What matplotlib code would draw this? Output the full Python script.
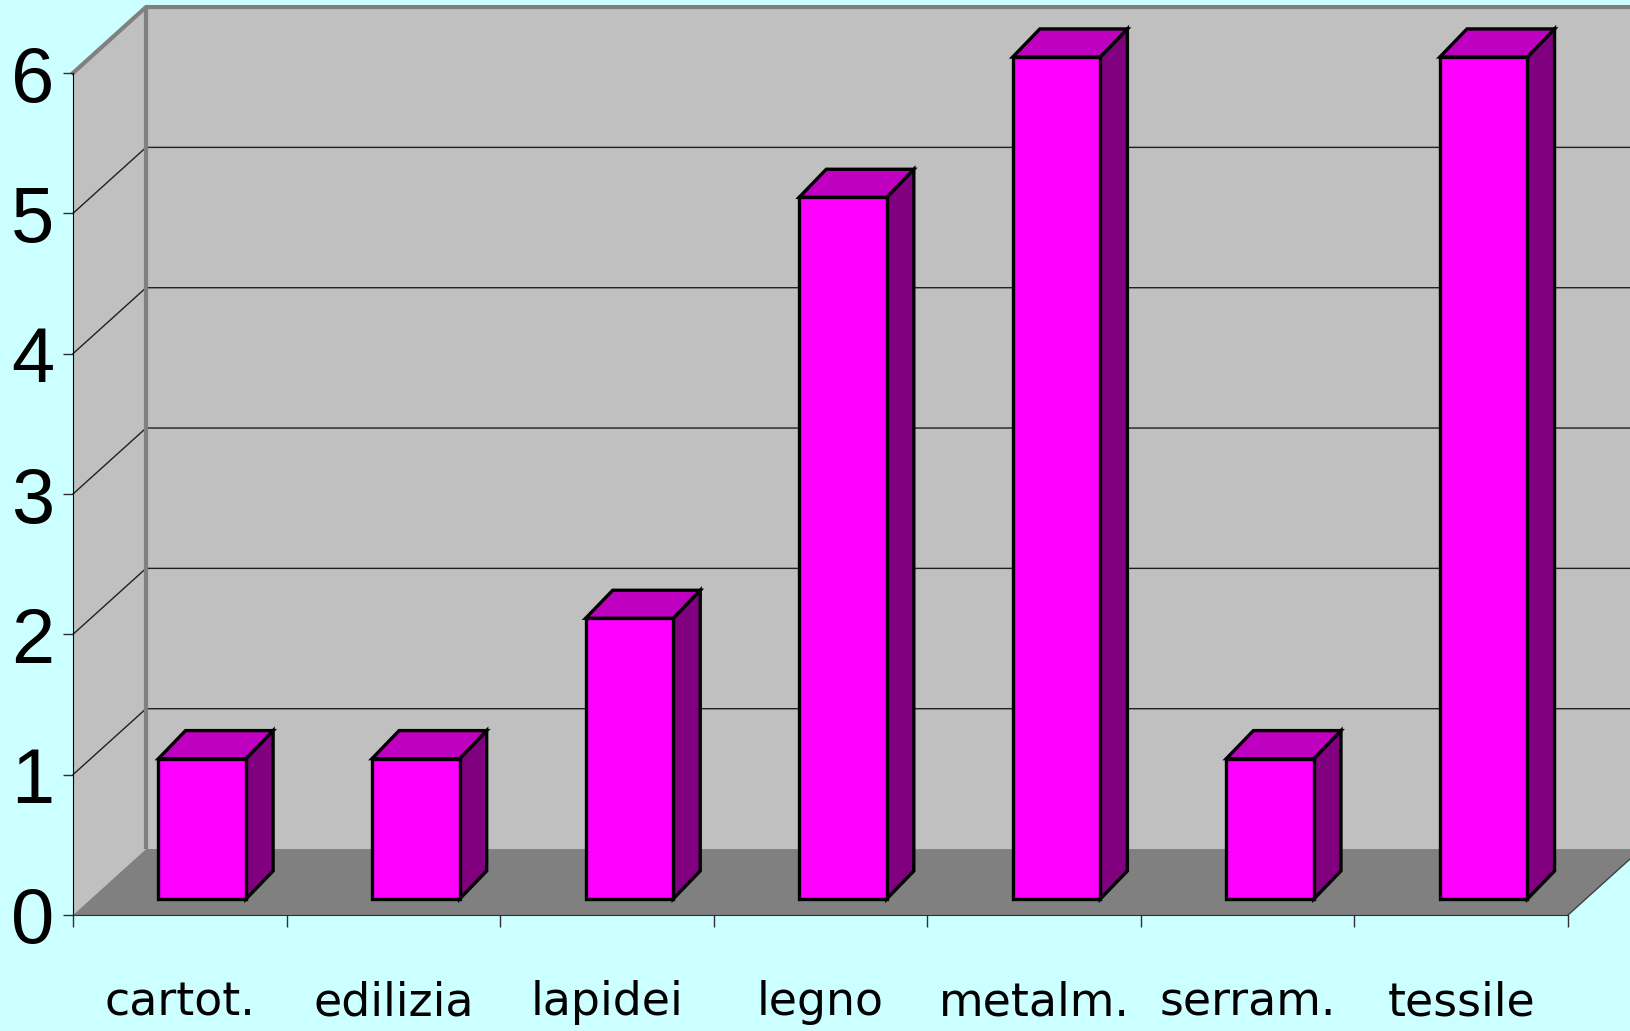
import matplotlib.pyplot as plt
from matplotlib.patches import Polygon

# 데이터
categories = ['cartot.', 'edilizia', 'lapidei', 'legno', 'metalm.', 'serram.', 'tessile']
values = [1, 1, 2, 5, 6, 1, 6]
y_ticks = [0, 1, 2, 3, 4, 5, 6]

n = len(categories)
y_max = y_ticks[-1]

# 3D look (data units)
wall_dx, wall_dy = 0.342, 0.47      # depth of the floor / walls
bar_left, bar_w = 0.40, 0.41        # front face inside each category
bar_oy = 0.114                      # front face lifted off the front edge
bar_dx, bar_dy = 0.127, 0.20        # depth of one bar

fig = plt.figure(figsize=(16.3, 10.31), dpi=100, facecolor='#ccffff')
ax = fig.add_axes([73 / 1630, 116 / 1031, 1495 / 1630, 842 / 1031])
ax.set_xlim(0, n)
ax.set_ylim(0, y_max)
ax.patch.set_visible(False)

# walls and floor
ax.add_patch(Polygon([(0, 0), (wall_dx, wall_dy), (wall_dx, y_max + wall_dy), (0, y_max)],
                     fc='#c0c0c0', ec='none', clip_on=False, zorder=0.5))
ax.add_patch(Polygon([(wall_dx, wall_dy), (n + 1, wall_dy), (n + 1, y_max + wall_dy), (wall_dx, y_max + wall_dy)],
                     fc='#c0c0c0', ec='none', clip_on=False, zorder=0.5))
ax.add_patch(Polygon([(0, 0), (n, 0), (n + wall_dx, wall_dy), (wall_dx, wall_dy)],
                     fc='#808080', ec='none', clip_on=False, zorder=0.6))
ax.plot([n, n + wall_dx], [0, wall_dy], color='#404040', lw=1, clip_on=False, zorder=0.65)

# gridlines on side + back wall
for v in y_ticks[1:-1]:
    ax.plot([0, wall_dx, n + 1], [v, v + wall_dy, v + wall_dy], color='#202020', lw=1,
            clip_on=False, zorder=0.7)

# gray wall edges
ax.plot([0, wall_dx, n + 1], [y_max, y_max + wall_dy, y_max + wall_dy], color='#808080', lw=3,
        clip_on=False, zorder=0.8, solid_joinstyle='miter')
ax.plot([wall_dx, wall_dx], [wall_dy, y_max + wall_dy], color='#808080', lw=3,
        clip_on=False, zorder=0.8, solid_capstyle='butt')

# bars
for i, v in enumerate(values):
    x0 = i + bar_left
    x1 = x0 + bar_w
    top = v + bar_oy
    front = [(x0, bar_oy), (x1, bar_oy), (x1, top), (x0, top)]
    side = [(x1, bar_oy), (x1 + bar_dx, bar_oy + bar_dy), (x1 + bar_dx, top + bar_dy), (x1, top)]
    cap = [(x0, top), (x1, top), (x1 + bar_dx, top + bar_dy), (x0 + bar_dx, top + bar_dy)]
    for pts, c in [(side, '#800080'), (cap, '#c000c0'), (front, '#ff00ff')]:
        ax.add_patch(Polygon(pts, fc=c, ec='black', lw=2.4, joinstyle='miter',
                             clip_on=False, zorder=3 + i * 0.01))

# axes, ticks
for s in ['top', 'right']:
    ax.spines[s].set_visible(False)
ax.spines['left'].set_color('black')
ax.spines['bottom'].set_color('#303030')
ax.spines['left'].set_zorder(2)
ax.spines['bottom'].set_zorder(2)

ax.set_yticks(y_ticks)
ax.set_yticklabels([str(t) for t in y_ticks], fontsize=56, family=['Liberation Sans', 'DejaVu Sans'])
ax.tick_params(axis='y', length=7.2, width=1, color='#303030', pad=6)

ax.set_xticks(range(n + 1))
ax.set_xticklabels([])
ax.tick_params(axis='x', which='major', length=8.6, width=1, color='#303030')
ax.set_xticks([i + 0.5 for i in range(n)], minor=True)
ax.set_xticklabels(categories, minor=True, fontsize=33, family=['DejaVu Sans'])
ax.tick_params(axis='x', which='minor', length=0, pad=47)

fig.savefig('out.png', dpi=100, facecolor=fig.get_facecolor())
